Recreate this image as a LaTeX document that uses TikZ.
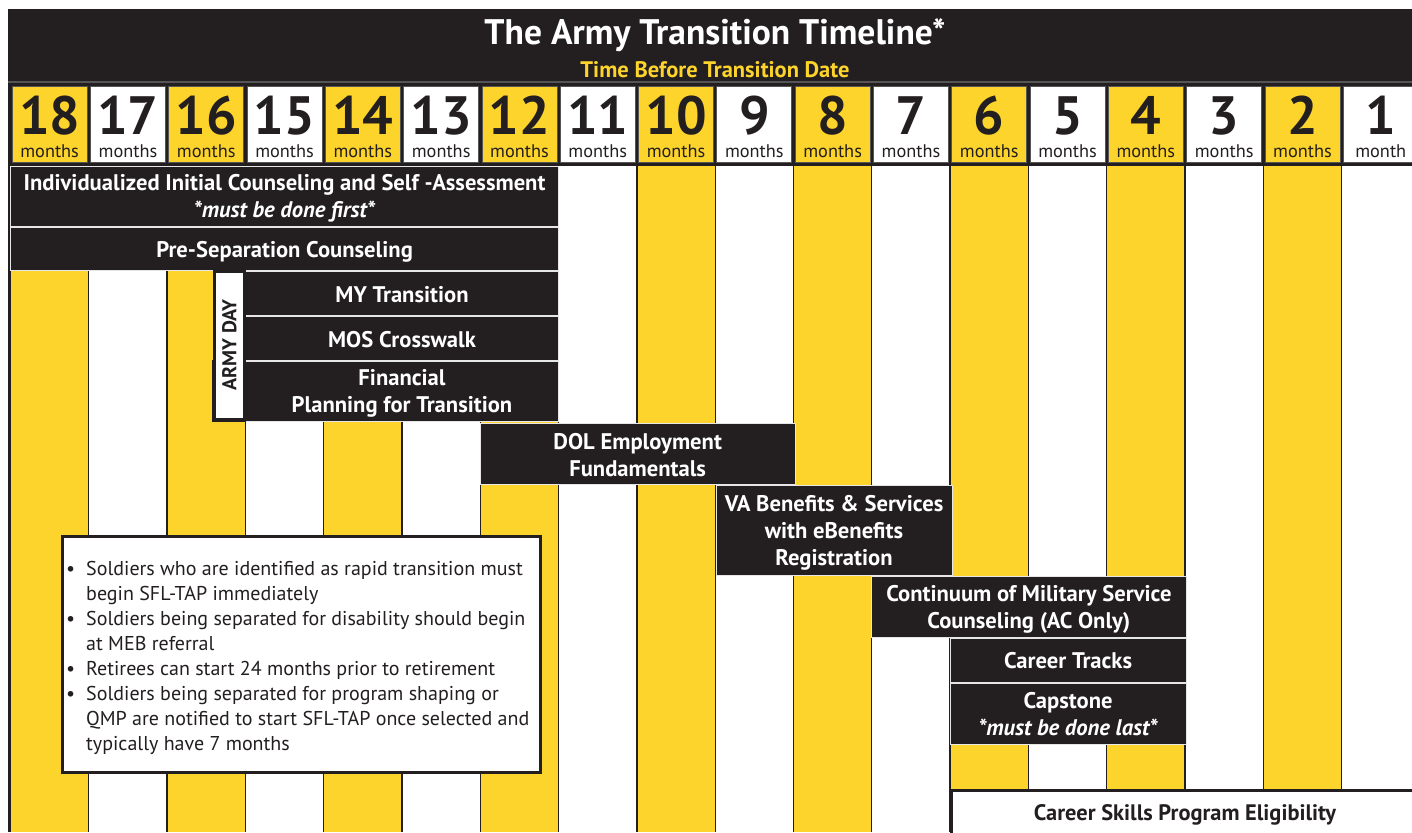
\documentclass[tikz,border=0pt]{standalone}
\usepackage{fontspec}
\setmainfont{PT Sans}
\definecolor{ayellow}{HTML}{FDD42B}
\definecolor{ablack}{HTML}{231F20}
\definecolor{barline}{HTML}{E6E6E6}
\definecolor{hdrline}{HTML}{555555}
% #1 name, #2-#5 box, #6 text, #7 text shift down
\newcommand\tlbar[7]{%
  \node[bar, minimum width={#4pt-#2pt}, minimum height={#5pt-#3pt}] (#1) at ({(#2+#4)/2},{(#3+#5)/2}) {};
  \node[bartext] (#1-t) at ({(#2+#4)/2},{(#3+#5)/2+#7}) {#6};}
\tikzset{
  bar/.style={fill=ablack, draw=barline, line width=1pt, inner sep=0pt},
  bartext/.style={text=white, font=\bfseries\fontsize{22.6}{27}\selectfont, align=center, inner sep=0pt},
  whitebox/.style={fill=white, draw=ablack, line width=3pt, text=ablack, inner sep=0pt},
  numbox/.style={draw=hdrline, line width=0.8pt, inner sep=0pt, minimum width=75pt, minimum height=76pt},
  numtext/.style={text=ablack, font=\bfseries\fontsize{54}{54}\selectfont, inner sep=0pt},
  montext/.style={text=ablack, font=\fontsize{18.3}{18}\selectfont, inner sep=0pt},
  stripe/.style={draw=ablack, line width=1.3pt}
}
\begin{document}
\begin{tikzpicture}[x=1pt,y=-1pt]
\useasboundingbox (0,0) rectangle (1412,832);
\clip (0,0) rectangle (1412,832);
\fill[white] (0,0) rectangle (1412,832);
% body stripes
\foreach \k in {0,...,17}{
  \pgfmathtruncatemacro\pp{mod(\k,2)}
  \ifnum\pp=0 \def\cc{ayellow}\else\def\cc{white}\fi
  \fill[\cc] ({10.5+78.3*\k},166) rectangle ({10.5+78.3*(\k+1)},832);
}
\foreach \k in {0,...,18}{
  \draw[stripe] ({10.5+78.3*\k},166) -- ({10.5+78.3*\k},832);
}
\draw[ablack, line width=2pt] (8.5,9) -- (8.5,832);
% header
\fill[ablack] (7.5,9) rectangle (1412,166);
\draw[hdrline, line width=1.2pt] (7.5,82) -- (1412,82);
\node[text=white, font=\bfseries\fontsize{35.5}{36}\selectfont, inner sep=0pt] (title) at (715,35) {The Army Transition Timeline*};
\node[text=ayellow, font=\bfseries\fontsize{22.5}{24}\selectfont, inner sep=0pt] (subtitle) at (715,69.5) {Time Before Transition Date};
\foreach \k in {0,...,17}{
  \pgfmathtruncatemacro\pp{mod(\k,2)}
  \pgfmathtruncatemacro\num{18-\k}
  \ifnum\pp=0 \def\cc{ayellow}\else\def\cc{white}\fi
  \node[numbox, fill=\cc] (box\k) at ({10.5+78.3*\k+39.15},124) {};
  \node[numtext] (num\k) at ({10.5+78.3*\k+39.15},115.5) {\num};
  \node[montext] (mon\k) at ({10.5+78.3*\k+39.15},151) {\ifnum\k=17 month\else months\fi};
}
% bars
\tlbar{ica}{10.5}{166.5}{558.6}{226}{Individualized Initial Counseling and Self -Assessment\\\textit{*must be done first*}}{2}
\tlbar{psc}{10.5}{227.5}{558.6}{270}{Pre-Separation Counseling}{3.5}
\tlbar{myt}{245.4}{271.5}{558.6}{315}{MY Transition}{1}
\tlbar{mos}{245.4}{316.5}{558.6}{360}{MOS Crosswalk}{1.5}
\tlbar{fin}{245.4}{361.5}{558.6}{421}{Financial\\Planning for Transition}{2.5}
\fill[ablack] (211.5,360) rectangle (246,422);
\node[whitebox, minimum width=30pt, minimum height=148pt] (army) at (229.5,345) {};
\node[rotate=90, text=ablack, font=\bfseries\fontsize{20}{20}\selectfont, inner sep=0pt] (armytext) at (army.center) {ARMY DAY};
\tlbar{dol}{480.3}{423}{795}{484}{DOL Employment\\Fundamentals}{2}
\tlbar{va}{716}{485}{952}{575}{VA Benefits \& Services\\with eBenefits\\Registration}{2.5}
\tlbar{cms}{871.8}{576.5}{1186}{637}{Continuum of Military Service\\Counseling (AC Only)}{2.5}
\tlbar{ct}{950.1}{638.5}{1186}{682}{Career Tracks}{0}
\tlbar{cap}{950.1}{683.5}{1186}{744}{Capstone\\\textit{*must be done last*}}{0}
\node[whitebox, minimum width=470pt, minimum height=50pt, anchor=north west] (csp) at (949.5,789) {};
\node[text=ablack, font=\bfseries\fontsize{22.4}{24}\selectfont, inner sep=0pt] (csptext) at (1185,815) {Career Skills Program Eligibility};
% note box
\node[whitebox, minimum width=478pt, minimum height=236pt] (note) at (301,654) {};
\node[anchor=north west, inner sep=0pt, text=ablack, font=\fontsize{20}{25}\selectfont] (notetext) at (66,558)
{\begin{tabular}{@{}p{20pt}@{}l@{}}
\textbullet & Soldiers who are identified as rapid transition must\\
 & begin SFL-TAP immediately\\
\textbullet & Soldiers being separated for disability should begin\\
 & at MEB referral\\
\textbullet & Retirees can start 24 months prior to retirement\\
\textbullet & Soldiers being separated for program shaping or\\
 & QMP are notified to start SFL-TAP once selected and\\
 & typically have 7 months
\end{tabular}};
\end{tikzpicture}
\end{document}
